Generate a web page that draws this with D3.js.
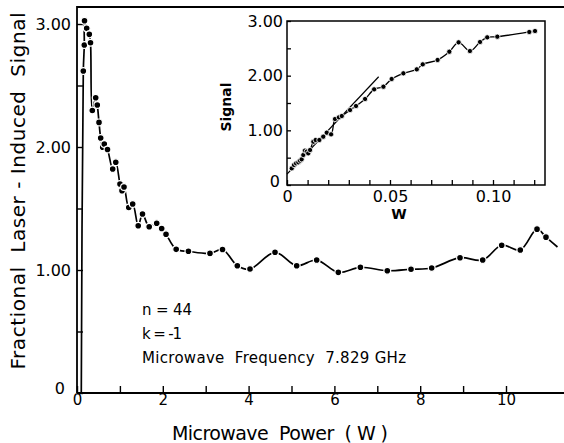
<!DOCTYPE html>
<html><head><meta charset="utf-8">
<script src="https://cdn.jsdelivr.net/npm/d3@7"></script>
<style>
body{margin:0;background:#fff}
svg{display:block}
text{font-family:"DejaVu Sans",sans-serif;fill:#000}
.pre{white-space:pre}
</style>
</head><body>
<svg id="c" width="564" height="443"></svg>
<script>
// ---- Main panel data (Microwave power W, fractional signal) ----
const mainPower = [0.147,0.170,0.175,0.226,0.287,0.315,0.357,0.436,0.473,0.513,0.552,0.599,0.636,0.711,0.832,0.904,1.002,1.049,1.096,1.207,1.298,1.427,1.527,1.683,1.858,1.974,2.075,2.312,2.597,3.100,3.392,3.737,4.033,4.616,5.121,5.587,6.091,6.606,7.233,7.786,8.268,8.928,9.457,9.900,10.333,10.723,10.932];
const mainSignal = [2.618,2.829,3.027,2.965,2.916,2.848,2.297,2.401,2.341,2.200,2.073,1.998,2.024,1.980,1.821,1.876,1.699,1.645,1.675,1.508,1.537,1.360,1.455,1.352,1.380,1.337,1.291,1.168,1.152,1.135,1.167,1.035,1.008,1.144,1.035,1.081,0.981,1.022,0.994,1.006,1.016,1.100,1.081,1.201,1.163,1.332,1.267];
const mainCurveStartPower = [0.1];
const mainCurveStartSignal = [0];
const mainCurveEndPower = [11.2];
const mainCurveEndSignal = [1.187];
const mainXTicks = [0,1,2,3,4,5,6,7,8,9,10];
const mainXLabels = ["0","","2","","4","","6","","8","","10"];
const mainYTicks = [0,0.5,1,1.5,2,2.5,3];
const mainYLabels = ["0","","1.00","","2.00","","3.00"];

// ---- Inset data ----
const insetPower = [0.0023,0.0034,0.0044,0.0055,0.0063,0.0071,0.0079,0.0087,0.0096,0.0103,0.0112,0.0128,0.0139,0.0157,0.0176,0.0193,0.0214,0.0233,0.0252,0.0266,0.0306,0.0335,0.0379,0.0423,0.0468,0.0508,0.0565,0.0630,0.0659,0.0731,0.0788,0.0833,0.0888,0.0937,0.0972,0.1021,0.1176,0.1204];
const insetSignal = [0.305,0.366,0.396,0.415,0.445,0.470,0.549,0.628,0.610,0.580,0.640,0.792,0.823,0.823,0.884,0.957,0.927,1.207,1.238,1.262,1.371,1.445,1.573,1.750,1.798,1.939,2.043,2.116,2.207,2.287,2.438,2.610,2.451,2.616,2.701,2.713,2.799,2.817];
const fitPower = [0,0.0445];
const fitSignal = [0.2,1.98];
const insetXTicks = [0,0.01,0.02,0.03,0.04,0.05,0.06,0.07,0.08,0.09,0.10,0.11,0.12];
const insetXLabels = ["0","","","","","0.05","","","","","0.10","",""];
const insetYTicks = [0,0.5,1,1.5,2,2.5,3];
const insetYLabels = ["0","","1.00","","2.00","","3.00"];

const svg = d3.select("#c");

// ---------- Main scales ----------
const x = d3.scaleLinear().domain([0,10]).range([77,506]);
const y = d3.scaleLinear().domain([0,3]).range([393,24]);

// frame
svg.append("path").attr("d",`M${x(0)},${y(0)} L${x(0)},7 L564,7`).attr("fill","none").attr("stroke","#000").attr("stroke-width",1.8);
svg.append("line").attr("x1",x(0)).attr("x2",564).attr("y1",y(0)).attr("y2",y(0)).attr("stroke","#000").attr("stroke-width",1.8);

const gx = svg.append("g").attr("transform",`translate(0,${y(0)})`)
  .call(d3.axisBottom(x).tickValues(mainXTicks).tickSize(-7).tickSizeOuter(0).tickPadding(1)
    .tickFormat((d,i)=>mainXLabels[i]));
gx.select(".domain").remove();
gx.selectAll("line").attr("stroke-width",1.4);
gx.selectAll("text").attr("font-size",15).attr("font-family","DejaVu Sans");

const gy = svg.append("g").attr("transform",`translate(${x(0)},0)`)
  .call(d3.axisLeft(y).tickValues(mainYTicks).tickSize(-6).tickSizeOuter(0).tickPadding(6)
    .tickFormat((d,i)=>mainYLabels[i]));
gy.select(".domain").remove();
gy.selectAll("line").attr("stroke-width",1.4);
gy.selectAll("text").attr("font-size",16).attr("font-family","DejaVu Sans");
gy.selectAll(".tick").filter(d=>d===0).select("text").attr("transform","translate(-6,-5)");

// main curve
const mainPts = mainPower.map((p,i)=>[p,mainSignal[i]]);
const curvePts = mainCurveStartPower.map((p,i)=>[p,mainCurveStartSignal[i]])
  .concat(mainPts)
  .concat(mainCurveEndPower.map((p,i)=>[p,mainCurveEndSignal[i]]));
const line = d3.line().x(d=>x(d[0])).y(d=>y(d[1])).curve(d3.curveCatmullRom.alpha(0.5));
svg.append("path").attr("d",line(curvePts)).attr("fill","none").attr("stroke","#000").attr("stroke-width",1.7);
svg.append("g").selectAll("circle").data(mainPts).join("circle")
  .attr("cx",d=>x(d[0])).attr("cy",d=>y(d[1])).attr("r",3.4)
  .attr("fill","#000").attr("stroke","#fff").attr("stroke-width",1.2);

// main axis titles
svg.append("text").attr("class","pre").attr("transform","translate(25,191) rotate(-90)")
  .attr("text-anchor","middle").attr("font-size",20)
  .attr("textLength",357).attr("lengthAdjust","spacing")
  .text("Fractional  Laser - Induced  Signal");
svg.append("text").attr("class","pre").attr("x",280).attr("y",440).attr("text-anchor","middle").attr("font-size",19)
  .attr("textLength",216).attr("lengthAdjust","spacing")
  .text("Microwave  Power  ( W )");

// annotations
svg.append("text").attr("x",142).attr("y",315).attr("font-size",15).attr("textLength",50).attr("lengthAdjust","spacing").text("n = 44");
svg.append("text").attr("x",142).attr("y",339).attr("font-size",15).attr("textLength",40).attr("lengthAdjust","spacing").text("k = -1");
svg.append("text").attr("class","pre").attr("x",142).attr("y",363).attr("font-size",15).attr("textLength",264).attr("lengthAdjust","spacing").text("Microwave  Frequency  7.829 GHz");

// ---------- Inset ----------
const ix = d3.scaleLinear().domain([0,0.1]).range([287,493]);
const iy = d3.scaleLinear().domain([0,3]).range([185,21]);
svg.append("rect").attr("x",ix(0)).attr("y",iy(3)).attr("width",545-ix(0)).attr("height",iy(0)-iy(3))
  .attr("fill","#fff").attr("stroke","#000").attr("stroke-width",1.5);

const igx = svg.append("g").attr("transform",`translate(0,${iy(0)})`)
  .call(d3.axisBottom(ix).tickValues(insetXTicks).tickSize(-5).tickSizeOuter(0).tickPadding(6)
    .tickFormat((d,i)=>insetXLabels[i]));
igx.select(".domain").remove();
igx.selectAll("line").attr("stroke-width",1.3);
igx.selectAll("text").attr("font-size",16).attr("font-family","DejaVu Sans");

const igy = svg.append("g").attr("transform",`translate(${ix(0)},0)`)
  .call(d3.axisLeft(iy).tickValues(insetYTicks).tickSize(-4).tickSizeOuter(0).tickPadding(4)
    .tickFormat((d,i)=>insetYLabels[i]));
igy.select(".domain").remove();
igy.selectAll("line").attr("stroke-width",1.3);
igy.selectAll("text").attr("font-size",16).attr("font-family","DejaVu Sans");
igy.selectAll(".tick").filter(d=>d===0).select("text").attr("transform","translate(-3,-4)");

// fit line
const fitPts = fitPower.map((p,i)=>[p,fitSignal[i]]);
svg.append("path").attr("d",d3.line().x(d=>ix(d[0])).y(d=>iy(d[1]))(fitPts))
  .attr("fill","none").attr("stroke","#000").attr("stroke-width",1.2);

const insetPts = insetPower.map((p,i)=>[p,insetSignal[i]]);
const iline = d3.line().x(d=>ix(d[0])).y(d=>iy(d[1])).curve(d3.curveCatmullRom.alpha(0.5));
svg.append("path").attr("d",iline(insetPts)).attr("fill","none").attr("stroke","#000").attr("stroke-width",1.3);
svg.append("g").selectAll("circle").data(insetPts).join("circle")
  .attr("cx",d=>ix(d[0])).attr("cy",d=>iy(d[1])).attr("r",2.6)
  .attr("fill","#000").attr("stroke","#fff").attr("stroke-width",0.8);

svg.append("text").attr("x",399).attr("y",219).attr("text-anchor","middle").attr("font-size",14).attr("font-weight","bold").text("W");
svg.append("text").attr("transform","translate(231,107) rotate(-90)").attr("text-anchor","middle")
  .attr("font-size",14).attr("font-weight","bold").text("Signal");
</script>
</body></html>
